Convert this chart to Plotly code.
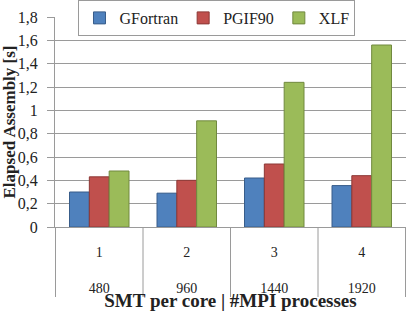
import plotly.graph_objects as go

smt = ["1", "2", "3", "4"]
mpi = ["480", "960", "1440", "1920"]
gfortran = [0.30, 0.29, 0.42, 0.355]
pgif90 = [0.43, 0.40, 0.54, 0.44]
xlf = [0.48, 0.91, 1.24, 1.56]
ytick_vals = [0, 0.2, 0.4, 0.6, 0.8, 1.0, 1.2, 1.4, 1.6, 1.8]
ytick_text = ["0", "0,2", "0,4", "0,6", "0,8", "1", "1,2", "1,4", "1,6", "1,8"]

series = [
    ("GFortran", gfortran, "#4F81BD", "#385D8A"),
    ("PGIF90", pgif90, "#C0504D", "#8C3836"),
    ("XLF", xlf, "#9BBB59", "#71893F"),
]

FONT = "Liberation Serif, serif"
GRID = "#9a9a9a"
fig = go.Figure()
for name, vals, col, line in series:
    fig.add_trace(go.Bar(
        name=name, x=smt, y=vals,
        marker=dict(color=col, line=dict(color=line, width=1)),
    ))

# category dividers extending below the axis
for i in range(len(smt) + 1):
    fig.add_shape(type="line", xref="x", yref="paper", x0=i - 0.5, x1=i - 0.5,
                  y0=0, y1=-70 / 210, line=dict(color=GRID, width=1))

fig.update_layout(
    width=407, height=311,
    margin=dict(l=55, r=1, t=17, b=84, autoexpand=False),
    paper_bgcolor="white", plot_bgcolor="white",
    barmode="group", bargap=0.32, bargroupgap=0,
    font=dict(family=FONT, size=16, color="#222"),
    legend=dict(orientation="h", x=0.4615, xanchor="center", y=1.081, yanchor="top",
                bgcolor="white", bordercolor=GRID, borderwidth=1,
                font=dict(size=16), itemwidth=30),
    showlegend=True,
)
fig.update_yaxes(range=[0, 1.8], tickvals=ytick_vals, ticktext=ytick_text,
                 showgrid=True, gridcolor=GRID, gridwidth=1, automargin=False,
                 showline=True, linecolor=GRID, ticks="outside", ticklen=7,
                 tickcolor=GRID, zeroline=False, ticklabelstandoff=6,
                 title=dict(text="<b>Elapsed Assembly [s]</b>", font=dict(size=17), standoff=11))
fig.update_xaxes(showline=True, linecolor=GRID, automargin=False,
                 ticks="", ticklabelstandoff=12, tickfont=dict(size=14),
                 tickvals=smt, ticktext=[f"{s}<br><br>{m}" for s, m in zip(smt, mpi)],
                 title=dict(text="<b>SMT per core | #MPI processes</b>", font=dict(size=19), standoff=0))
fig.write_html("out.html", config={"displayModeBar": False},
               post_script="document.body.style.margin='0';")
